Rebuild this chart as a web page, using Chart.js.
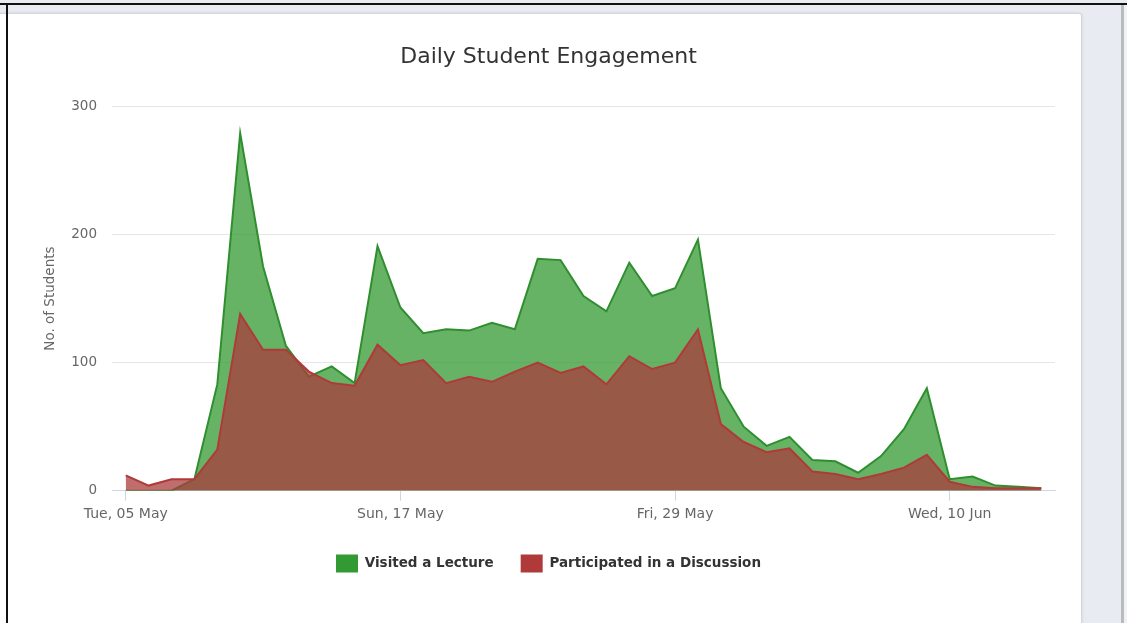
<!DOCTYPE html>
<html>
<head>
<meta charset="utf-8">
<script src="https://cdn.jsdelivr.net/npm/chart.js@4.4.1/dist/chart.umd.min.js"></script>
<style>
    body { margin: 0; width: 1127px; height: 623px; overflow: hidden; background: #e9ebf3; position: relative; }
    #card { position: absolute; left: -10px; top: 13px; width: 1090px; height: 640px; background: #fff;
            border: 1px solid #d3d6dc; border-radius: 3px; box-shadow: 0 0 3px rgba(0,0,0,0.12); }
    #frameTop { position: absolute; left: 0; top: 3px; width: 1127px; height: 2px; background: #111; }
    #frameLeft { position: absolute; left: 6px; top: 3px; width: 2px; height: 620px; background: #111; }
    #sideLine { position: absolute; left: 1121px; top: 5px; width: 3px; height: 618px; background: #b9bbc1; }
    #sideEdge { position: absolute; left: 1124px; top: 5px; width: 3px; height: 618px; background: #f2f2f4; }
    #wrap { position: absolute; left: 7px; top: 15px; width: 1074px; height: 608px; }
</style>
</head>
<body>
<div id="card"></div>
<div id="wrap"><canvas id="engagementChart"></canvas></div>
<div id="frameTop"></div>
<div id="frameLeft"></div>
<div id="sideLine"></div>
<div id="sideEdge"></div>

<script>
// days from Tue 05 May to Sun 14 Jun
const days = [
    '05 May', '06 May', '07 May', '08 May', '09 May', '10 May', '11 May', '12 May', '13 May', '14 May',
    '15 May', '16 May', '17 May', '18 May', '19 May', '20 May', '21 May', '22 May', '23 May', '24 May',
    '25 May', '26 May', '27 May', '28 May', '29 May', '30 May', '31 May', '01 Jun', '02 Jun', '03 Jun',
    '04 Jun', '05 Jun', '06 Jun', '07 Jun', '08 Jun', '09 Jun', '10 Jun', '11 Jun', '12 Jun', '13 Jun',
    '14 Jun'
];

const visitedLecture = [
    0, 0, 0, 9, 83, 279, 175, 113, 89, 97,
    84, 191, 143, 123, 126, 125, 131, 126, 181, 180,
    152, 140, 178, 152, 158, 196, 80, 50, 35, 42,
    24, 23, 14, 27, 48, 80, 9, 11, 4, 3,
    2
];

const participatedDiscussion = [
    12, 4, 9, 9, 32, 138, 110, 110, 93, 84,
    82, 114, 98, 102, 84, 89, 85, 93, 100, 92,
    97, 83, 105, 95, 100, 126, 52, 38, 30, 33,
    15, 13, 9, 13, 18, 28, 7, 3, 2, 2,
    2
];

// x-axis ticks every 12 days
const tickDays   = [0, 12, 24, 36];
const tickLabels = ['Tue, 05 May', 'Sun, 17 May', 'Fri, 29 May', 'Wed, 10 Jun'];

const seriesNames  = ['Participated in a Discussion', 'Visited a Lecture'];
const legendColors = ['#b03a3a', '#339933'];

//-----------------------------------------------------------------------------
//  solid legend squares, no border
//-----------------------------------------------------------------------------
function solidLegendBoxes(chart) {
    return Chart.defaults.plugins.legend.labels.generateLabels(chart).map(label => (
        {
        ...label,
        fillStyle: legendColors[label.datasetIndex],
        strokeStyle: 'transparent',
        lineWidth: 0
        })
    );
}

Chart.defaults.font.family = "'DejaVu Sans', sans-serif";

const toPoints = values => values.map((v, i) => ({ x: i, y: v }));

const ctx = document.getElementById('engagementChart').getContext('2d');
new Chart(ctx, {
    type: 'line',
    data: {
        datasets: [
            // red first so it is painted over the green area
            {
                label: seriesNames[0],
                data: toPoints(participatedDiscussion),
                borderColor: '#b03a3a',
                backgroundColor: 'rgba(170, 60, 60, 0.75)',
                borderWidth: 2,
                fill: 'origin',
                pointRadius: 0,
                tension: 0
            },
            {
                label: seriesNames[1],
                data: toPoints(visitedLecture),
                borderColor: '#2f8f2f',
                backgroundColor: 'rgba(51, 153, 51, 0.75)',
                borderWidth: 2,
                fill: 'origin',
                pointRadius: 0,
                tension: 0
            }
        ]
    },
    options: {
        responsive: true,
        maintainAspectRatio: false,
        animation: false,
        layout: {
            padding: { left: 35, right: 26, top: 0, bottom: 40.5 }
        },
        plugins: {
            title: {
                display: true,
                text: 'Daily Student Engagement',
                color: '#333333',
                font: { size: 22, weight: 'normal' },
                padding: { top: 29, bottom: 36 }
            },
            legend: {
                position: 'bottom',
                reverse: true,
                labels: {
                    generateLabels: solidLegendBoxes,
                    boxWidth: 22,
                    boxHeight: 18,
                    padding: 27,
                    color: '#333333',
                    font: { size: 13.5, weight: 'bold' }
                }
            },
            tooltip: { enabled: false }
        },
        scales: {
            x: {
                type: 'linear',
                min: -0.6,
                max: 40.6,
                afterBuildTicks: axis => { axis.ticks = tickDays.map(d => ({ value: d })); },
                ticks: {
                    autoSkip: false,
                    maxRotation: 0,
                    padding: 5,
                    color: '#666666',
                    font: { size: 14 },
                    callback: (value, index) => tickLabels[index]
                },
                grid: { drawOnChartArea: false, color: '#ccd6eb', tickLength: 10 },
                border: { color: '#ccd6eb' }
            },
            y: {
                min: 0,
                max: 300,
                afterFit: scale => { scale.width = 70; },
                ticks: {
                    stepSize: 100,
                    padding: 15,
                    color: '#666666',
                    font: { size: 13.5 }
                },
                grid: { color: '#e6e6e6', drawTicks: false },
                border: { display: false },
                title: {
                    display: true,
                    text: 'No. of Students',
                    color: '#666666',
                    font: { size: 13.5 },
                    padding: 0
                }
            }
        }
    }
});
</script>
</body>
</html>
